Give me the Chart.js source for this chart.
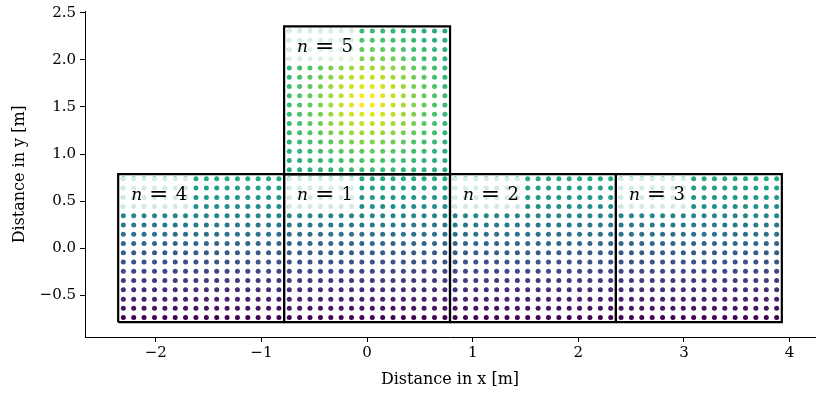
<!DOCTYPE html>
<html><head><meta charset="utf-8">
<script src="https://cdn.jsdelivr.net/npm/chart.js@4.4.1/dist/chart.umd.min.js"></script>
<style>html,body{margin:0;padding:0;background:#fff;}canvas{display:block}</style>
</head><body>
<canvas id="c" width="830" height="394"></canvas>
<script>
// ---- data ----
const squareLabels = ['1', '2', '3', '4', '5'];
const squareLeft   = [-0.785, 0.785, 2.356, -2.356, -0.785];
const squareBottom = [-0.785, -0.785, -0.785, -0.785, 0.785];
const squareSide   = 1.571;
// positions of the 16 sample points inside a square (offset from its left / bottom edge)
const cellOffsets = [0.049, 0.147, 0.245, 0.344, 0.442, 0.540, 0.638, 0.736,
                     0.835, 0.933, 1.031, 1.129, 1.227, 1.325, 1.424, 1.522];
// colour level of each row (bottom -> top) in squares n=1..4
const lowerRowLevels = [0.00, 0.05, 0.09, 0.13, 0.17, 0.21, 0.25, 0.29,
                        0.33, 0.37, 0.41, 0.45, 0.49, 0.53, 0.57, 0.61];
// colour levels in square n=5 (rows top -> bottom, columns left -> right)
const upperLevels = [
 [0.61,0.62,0.63,0.64,0.65,0.66,0.67,0.68,0.68,0.67,0.66,0.65,0.64,0.63,0.62,0.61],
 [0.62,0.63,0.65,0.67,0.69,0.70,0.71,0.72,0.72,0.71,0.70,0.69,0.67,0.65,0.63,0.62],
 [0.63,0.65,0.67,0.69,0.72,0.74,0.75,0.76,0.76,0.75,0.74,0.72,0.69,0.67,0.65,0.63],
 [0.64,0.67,0.69,0.72,0.75,0.78,0.80,0.81,0.81,0.80,0.78,0.75,0.72,0.69,0.67,0.64],
 [0.65,0.69,0.72,0.75,0.79,0.82,0.85,0.86,0.86,0.85,0.82,0.79,0.75,0.72,0.69,0.65],
 [0.66,0.70,0.74,0.78,0.82,0.86,0.89,0.91,0.91,0.89,0.86,0.82,0.78,0.74,0.70,0.66],
 [0.67,0.71,0.75,0.80,0.85,0.89,0.93,0.96,0.96,0.93,0.89,0.85,0.80,0.75,0.71,0.67],
 [0.68,0.72,0.76,0.81,0.86,0.91,0.96,1.00,1.00,0.96,0.91,0.86,0.81,0.76,0.72,0.68],
 [0.68,0.72,0.76,0.81,0.86,0.91,0.96,1.00,1.00,0.96,0.91,0.86,0.81,0.76,0.72,0.68],
 [0.67,0.71,0.75,0.80,0.85,0.89,0.93,0.96,0.96,0.93,0.89,0.85,0.80,0.75,0.71,0.67],
 [0.66,0.70,0.74,0.78,0.82,0.86,0.89,0.91,0.91,0.89,0.86,0.82,0.78,0.74,0.70,0.66],
 [0.65,0.69,0.72,0.75,0.79,0.82,0.85,0.86,0.86,0.85,0.82,0.79,0.75,0.72,0.69,0.65],
 [0.64,0.67,0.69,0.72,0.75,0.78,0.80,0.81,0.81,0.80,0.78,0.75,0.72,0.69,0.67,0.64],
 [0.63,0.65,0.67,0.69,0.72,0.74,0.75,0.76,0.76,0.75,0.74,0.72,0.69,0.67,0.65,0.63],
 [0.62,0.63,0.65,0.67,0.69,0.70,0.71,0.72,0.72,0.71,0.70,0.69,0.67,0.65,0.63,0.62],
 [0.61,0.62,0.63,0.64,0.65,0.66,0.67,0.68,0.68,0.67,0.66,0.65,0.64,0.63,0.62,0.61]
];
const xTickValues = [-2, -1, 0, 1, 2, 3, 4];
const xTickLabels = ['\u22122', '\u22121', '0', '1', '2', '3', '4'];
const yTickValues = [-0.5, 0, 0.5, 1, 1.5, 2, 2.5];
const yTickLabels = ['\u22120.5', '0.0', '0.5', '1.0', '1.5', '2.0', '2.5'];
const xTitle = 'Distance in x [m]';
const yTitle = 'Distance in y [m]';

// ---- viridis colormap ----
const VIRIDIS = ['#440154','#482475','#414487','#355f8d','#2a788e','#21918c','#22a884','#44bf70','#7ad151','#bddf26','#fde725'];
function hex(h){return [parseInt(h.slice(1,3),16),parseInt(h.slice(3,5),16),parseInt(h.slice(5,7),16)];}
function viridis(v){
  v = Math.max(0, Math.min(1, v));
  const p = v * (VIRIDIS.length - 1), i = Math.min(Math.floor(p), VIRIDIS.length - 2), f = p - i;
  const a = hex(VIRIDIS[i]), b = hex(VIRIDIS[i+1]);
  return 'rgb(' + a.map((c,k)=>Math.round(c + (b[k]-c)*f)).join(',') + ')';
}

// ---- datasets ----
const datasets = [];
squareLabels.forEach((lab, s) => {
  const pts = [], cols = [];
  for (let r = 0; r < cellOffsets.length; r++) {
    for (let c = 0; c < cellOffsets.length; c++) {
      pts.push({x: squareLeft[s] + cellOffsets[c], y: squareBottom[s] + cellOffsets[r]});
      const lvl = s === 4 ? upperLevels[cellOffsets.length - 1 - r][c] : lowerRowLevels[r];
      cols.push(viridis(lvl));
    }
  }
  datasets.push({data: pts, pointBackgroundColor: cols, pointRadius: 2.5, pointBorderWidth: 0,
                 showLine: false, order: 2});
});
squareLabels.forEach((lab, s) => {
  const x0 = squareLeft[s], y0 = squareBottom[s], x1 = x0 + squareSide, y1 = y0 + squareSide;
  datasets.push({data: [{x:x0,y:y0},{x:x1,y:y0},{x:x1,y:y1},{x:x0,y:y1},{x:x0,y:y0}],
                 showLine: true, borderColor: '#000', borderWidth: 2.2, pointRadius: 0,
                 fill: false, tension: 0, order: 1, borderJoinStyle: 'miter'});
});

const SERIF = '"DejaVu Serif", serif';
const labelPlugin = {
  id: 'squareLabels',
  afterDatasetsDraw(chart) {
    const {ctx, scales: {x, y}} = chart;
    ctx.save();
    squareLabels.forEach((lab, s) => {
      const px = x.getPixelForValue(squareLeft[s]);
      const py = y.getPixelForValue(squareBottom[s] + squareSide);
      ctx.fillStyle = 'rgba(255,255,255,0.8)';
      ctx.fillRect(px + 3, py + 2.5, 72, 34);
      ctx.fillStyle = '#000';
      ctx.textBaseline = 'alphabetic';
      ctx.textAlign = 'left';
      ctx.font = 'italic 17px ' + SERIF;
      ctx.fillText('n', px + 13, py + 26);
      ctx.font = '23px ' + SERIF;
      ctx.textAlign = 'center';
      ctx.fillText('=', px + 40.5, py + 27);
      ctx.font = '18px ' + SERIF;
      ctx.textAlign = 'left';
      ctx.fillText(lab, px + 57.5, py + 26);
    });
    ctx.restore();
  }
};

function axisCommon(tickVals, tickLabels, title, titlePad) {
  return {
    type: 'linear',
    afterBuildTicks: sc => { sc.ticks = tickVals.map(v => ({value: v})); },
    ticks: {
      autoSkip: false, maxRotation: 0, color: '#000', padding: 4,
      font: {family: SERIF, size: 15, lineHeight: 1.0},
      callback: (v, i) => tickLabels[i]
    },
    grid: {display: true, drawOnChartArea: false, drawTicks: true, tickLength: 5, color: '#000', lineWidth: 1},
    border: {display: true, color: '#000', width: 1},
    title: {display: true, text: title, color: '#000', font: {family: SERIF, size: 16, lineHeight: 1.2}, padding: titlePad}
  };
}

const xScale = axisCommon(xTickValues, xTickLabels, xTitle, {top: 0, bottom: 5});
xScale.min = -2.670; xScale.max = 4.241;
xScale.afterFit = sc => { sc.height = 57; };
const yScale = axisCommon(yTickValues, yTickLabels, yTitle, {top: 10, bottom: 0});
yScale.min = -0.942; yScale.max = 2.513;
yScale.afterFit = sc => { sc.width = 85; };

new Chart(document.getElementById('c'), {
  type: 'scatter',
  data: {datasets},
  options: {
    responsive: false, animation: false, devicePixelRatio: 1,
    layout: {padding: {top: 7, right: 15, left: 0, bottom: 0}},
    plugins: {legend: {display: false}, tooltip: {enabled: false}},
    scales: {x: xScale, y: yScale}
  },
  plugins: [labelPlugin]
});
</script>
</body></html>
